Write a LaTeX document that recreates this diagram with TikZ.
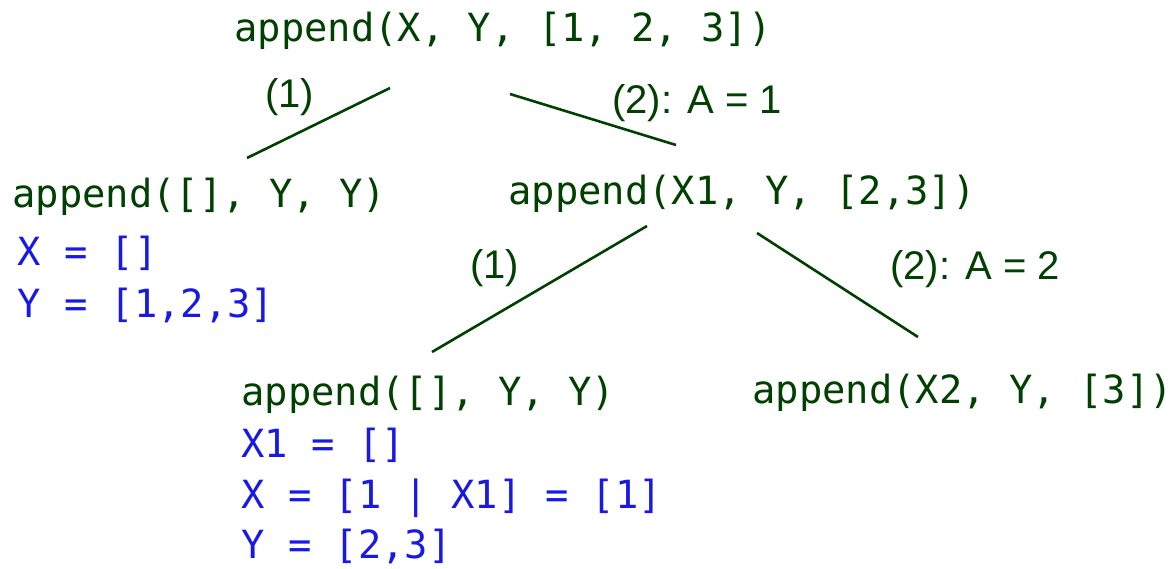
\documentclass[tikz,border=0pt]{standalone}
\usepackage{fontspec}
\setmonofont{DejaVu Sans Mono}
\setsansfont{Liberation Sans}
\usetikzlibrary{positioning}
\definecolor{goalgreen}{RGB}{0,64,0}
\definecolor{bindblue}{RGB}{25,25,230}
\tikzset{
  goal/.style={anchor=base west, inner sep=0, text=goalgreen, font=\fontsize{19.4}{23}\ttfamily},
  bind/.style={anchor=base west, inner sep=0, text=bindblue, font=\fontsize{19.4}{23}\ttfamily},
  lbl/.style={anchor=base west, inner sep=0, text=goalgreen, font=\fontsize{20}{24}\sffamily},
  branch/.style={draw=goalgreen, line width=1.3pt}}

\begin{document}
\begin{tikzpicture}[x=0.5pt,y=-0.5pt]
\useasboundingbox (0,0) rectangle (1173,568);
% goals
\node[goal] (root) at (234,41) {append(X, Y, [1, 2, 3])};
\node[goal] (left) at (12,207) {append([], Y, Y)};
\node[goal] (right) at (508,204) {append(X1, Y, [2,3])};
\node[goal] (rleft) at (241,405) {append([], Y, Y)};
\node[goal] (rright) at (752,403) {append(X2, Y, [3])};
% bindings
\node[bind] (lx) at (17,265) {X = []};
\node[bind] (ly) at (17,317) {Y = [1,2,3]};
\node[bind] (rx1) at (241,457) {X1 = []};
\node[bind] (rx) at (241,508) {X = [1 | X1] = [1]};
\node[bind] (ry) at (241,558) {Y = [2,3]};
% branches
\coordinate (a) at (390,88);
\coordinate (b) at (247,158);
\coordinate (c) at (510,94);
\coordinate (d) at (676,145);
\coordinate (e) at (647,226);
\coordinate (f) at (432,352);
\coordinate (g) at (757,233);
\coordinate (h) at (918,337);
\draw[branch] (a) -- (b);
\draw[branch] (c) -- (d);
\draw[branch] (e) -- (f);
\draw[branch] (g) -- (h);
% clause labels
\node[lbl] (c1) at (265,107) {(1)};
\node[lbl] (c2) at (612,113) {(2): A = 1};
\node[lbl] (c3) at (470,278) {(1)};
\node[lbl] (c4) at (890,279) {(2): A = 2};
\end{tikzpicture}
\end{document}
